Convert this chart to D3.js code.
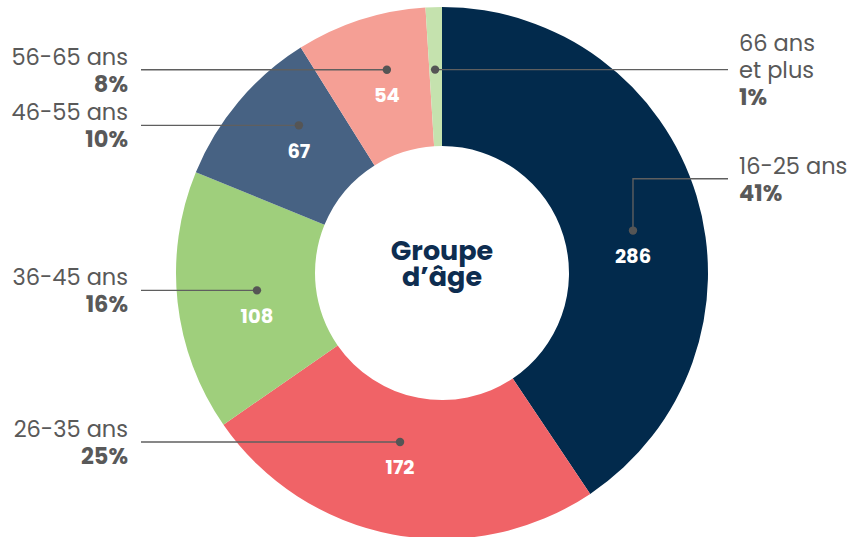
<!DOCTYPE html>
<html>
<head>
<meta charset="utf-8">
<script src="https://cdn.jsdelivr.net/npm/d3@7/dist/d3.min.js"></script>
<style>
  body { margin: 0; background: #fff; }
  svg { display: block; font-family: Poppins, Lato, "Noto Sans", sans-serif; }
</style>
</head>
<body>
<svg width="861" height="537"></svg>
<script>
// data
var categories = ["16-25 ans", "26-35 ans", "36-45 ans", "46-55 ans", "56-65 ans", "66 ans et plus"];
var categoryLines = [["16-25 ans"], ["26-35 ans"], ["36-45 ans"], ["46-55 ans"], ["56-65 ans"], ["66 ans", "et plus"]];
var percents = [41, 25, 16, 10, 8, 1];          // slice sizes (rounded shares)
var counts = [286, 172, 108, 67, 54, null];     // value shown inside the slice
var colors = ["#022a4c", "#f06367", "#9fcf7c", "#476283", "#f59f95", "#c5e2ae"];

// label layout (which side, nudge of the dot from the slice centroid, elbow)
var labelSide = ["right", "left", "left", "left", "left", "right"];
var dotNudge = [[3, 14.8], [-5.5, -24.1], [10.3, -4], [7.2, -21.1], [5, -16.2], [-0.8, -7]];
var elbowY = [178.7, null, null, null, null, null];

var svg = d3.select("svg"),
    width = 861,
    height = 537;

var cx = 442, cy = 273,
    rOuter = 266, rInner = 127;

var pie = d3.pie().sort(null).value(function(d) { return d; });
var arc = d3.arc().innerRadius(rInner).outerRadius(rOuter);
var arcs = pie(percents);

var g = svg.append("g").attr("transform", "translate(" + cx + "," + cy + ")");

g.selectAll("path.slice")
  .data(arcs)
  .enter().append("path")
  .attr("class", "slice")
  .attr("d", arc)
  .attr("fill", function(d, i) { return colors[i]; });

// center title
var title = g.append("text")
  .attr("text-anchor", "middle")
  .attr("fill", "#0e2d50")
  .attr("font-weight", 700)
  .attr("font-size", "27px");
title.append("tspan").attr("x", 0).attr("y", -13).text("Groupe");
title.append("tspan").attr("x", 0).attr("y", 13).text("d\u2019\u00e2ge");

// dots positions (absolute)
var dots = arcs.map(function(d, i) {
  var c = arc.centroid(d);
  return [cx + c[0] + dotNudge[i][0], cy + c[1] + dotNudge[i][1]];
});

var leaders = svg.append("g").attr("class", "leaders");

arcs.forEach(function(d, i) {
  var p = dots[i];
  var lineY = elbowY[i] != null ? elbowY[i] : p[1];
  var side = labelSide[i];
  var xEnd = side === "left" ? 141 : 728;
  var pts = elbowY[i] != null ? [[p[0], p[1]], [p[0], lineY], [xEnd, lineY]] : [[p[0], p[1]], [xEnd, lineY]];

  leaders.append("path")
    .attr("d", d3.line()(pts))
    .attr("fill", "none")
    .attr("stroke", "#5f5f5f")
    .attr("stroke-width", 1.4);

  leaders.append("circle")
    .attr("cx", p[0]).attr("cy", p[1]).attr("r", 4.2)
    .attr("fill", "#555");

  // value inside the slice (the thin one has none)
  if (counts[i] != null) {
    svg.append("text")
      .attr("x", p[0]).attr("y", p[1] + 32.5)
      .attr("text-anchor", "middle")
      .attr("fill", "#fff")
      .attr("font-weight", 700)
      .attr("font-size", "19.5px")
      .text(counts[i]);
  }

  // side label
  var lines = categoryLines[i].concat([percents[i] + "%"]);
  var n = lines.length;
  var t = svg.append("text")
    .attr("text-anchor", side === "left" ? "end" : "start")
    .attr("fill", "#595959")
    .attr("font-size", "22.5px");
  lines.forEach(function(s, k) {
    t.append("tspan")
      .attr("x", side === "left" ? 128 : 739)
      .attr("y", lineY + 8.5 + (k - (n - 1) / 2) * 27)
      .attr("font-weight", k === n - 1 ? 700 : 400)
      .text(s);
  });
});
</script>
</body>
</html>
